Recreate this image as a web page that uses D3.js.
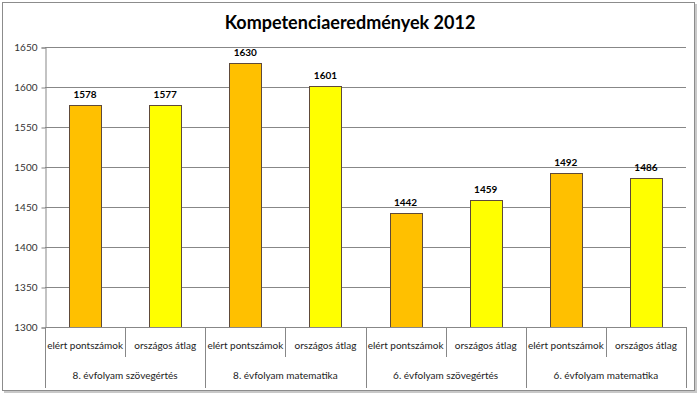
<!DOCTYPE html>
<html>
<head>
<meta charset="utf-8">
<script src="https://cdn.jsdelivr.net/npm/d3@7"></script>
<style>
  body { margin: 0; background: #fff; }
  svg text { font-family: Lato, "Open Sans", sans-serif; }
</style>
</head>
<body>
<svg id="chart" width="700" height="395"></svg>
<script>
// data
var groups = ["8. évfolyam szövegértés", "8. évfolyam matematika", "6. évfolyam szövegértés", "6. évfolyam matematika"];
var subLabels = ["elért pontszámok", "országos átlag"];
var values = [1578, 1577, 1630, 1601, 1442, 1459, 1492, 1486];
var yTicks = [1300, 1350, 1400, 1450, 1500, 1550, 1600, 1650];
var barColors = ["#FFC000", "#FFFF00"];

var svg = d3.select("#chart");

// outer frame with a small shadow
svg.append("rect").attr("x", 4).attr("y", 4).attr("width", 693).attr("height", 389)
  .attr("fill", "#c8c8c8");
svg.append("rect").attr("x", 2.5).attr("y", 2.5).attr("width", 692).attr("height", 388)
  .attr("fill", "#fff").attr("stroke", "#8c8c8c");

var plotLeft = 45, plotRight = 686, plotTop = 47, plotBottom = 327;

var bars = [];
for (var i = 0; i < values.length; i++) {
  bars.push({ id: i, group: groups[Math.floor(i / 2)], sub: subLabels[i % 2], value: values[i], color: barColors[i % 2] });
}

var x = d3.scaleBand().domain(d3.range(values.length)).range([plotLeft, plotRight]).paddingInner(0.6).paddingOuter(0.3);
var xb = d3.scaleBand().domain(d3.range(values.length)).range([plotLeft, plotRight]);
var y = d3.scaleLinear().domain([1300, 1650]).range([plotBottom, plotTop]);

// title
svg.append("text").attr("x", 350).attr("y", 29).attr("text-anchor", "middle")
  .style("font-size", "18px").style("font-weight", "bold").attr("fill", "#000")
  .text("Kompetenciaeredmények 2012");

// gridlines
svg.append("g").selectAll("line").data(yTicks.slice(1)).enter()
  .append("line")
  .attr("x1", plotLeft).attr("x2", plotRight)
  .attr("y1", function(d){ return Math.round(y(d)) + 0.5; })
  .attr("y2", function(d){ return Math.round(y(d)) + 0.5; })
  .attr("stroke", "#878787");

// y axis
var yAxis = svg.append("g").attr("transform", "translate(" + (plotLeft + 0.5) + ",0.5)")
  .call(d3.axisLeft(y).tickValues(yTicks).tickSize(4).tickPadding(4).tickFormat(d3.format("d")));
yAxis.select(".domain").attr("stroke", "#878787");
yAxis.selectAll(".tick line").attr("stroke", "#878787");
yAxis.selectAll("text").style("font-size", "10px").attr("fill", "#333");

// bars
svg.append("g").selectAll("rect").data(bars).enter()
  .append("rect")
  .attr("x", function(d){ return Math.round(x(d.id)) + 0.5; })
  .attr("y", function(d){ return Math.round(y(d.value)) + 0.5; })
  .attr("width", Math.round(x.bandwidth()))
  .attr("height", function(d){ return Math.round(plotBottom - y(d.value)); })
  .attr("fill", function(d){ return d.color; })
  .attr("stroke", "#5e4a3a");

// value labels
svg.append("g").selectAll("text").data(bars).enter()
  .append("text")
  .attr("x", function(d){ return x(d.id) + x.bandwidth() / 2; })
  .attr("y", function(d){ return y(d.value) - 7; })
  .attr("text-anchor", "middle")
  .style("font-size", "10px").style("font-weight", "bold").attr("fill", "#000")
  .text(function(d){ return d.value; });

// x axis line
svg.append("line").attr("x1", plotLeft).attr("x2", plotRight).attr("y1", plotBottom + 0.5).attr("y2", plotBottom + 0.5)
  .attr("stroke", "#878787");

// category separators: short ones between sub labels, long ones between groups
var seps = d3.range(values.length + 1);
svg.append("g").selectAll("line").data(seps).enter()
  .append("line")
  .attr("x1", function(d){ return Math.round(d < values.length ? xb(d) : plotRight) + 0.5; })
  .attr("x2", function(d){ return Math.round(d < values.length ? xb(d) : plotRight) + 0.5; })
  .attr("y1", plotBottom)
  .attr("y2", function(d){ return d % 2 == 0 ? 388 : 357; })
  .attr("stroke", "#878787");

// sub labels
svg.append("g").selectAll("text").data(bars).enter()
  .append("text")
  .attr("x", function(d){ return xb(d.id) + xb.bandwidth() / 2; })
  .attr("y", 349)
  .attr("text-anchor", "middle")
  .style("font-size", "10px").attr("fill", "#222")
  .text(function(d){ return d.sub; });

// group labels
svg.append("g").selectAll("text").data(groups).enter()
  .append("text")
  .attr("x", function(d, i){ return xb(i * 2) + xb.bandwidth(); })
  .attr("y", 379)
  .attr("text-anchor", "middle")
  .style("font-size", "10px").attr("fill", "#222")
  .text(function(d){ return d; });
</script>
</body>
</html>
